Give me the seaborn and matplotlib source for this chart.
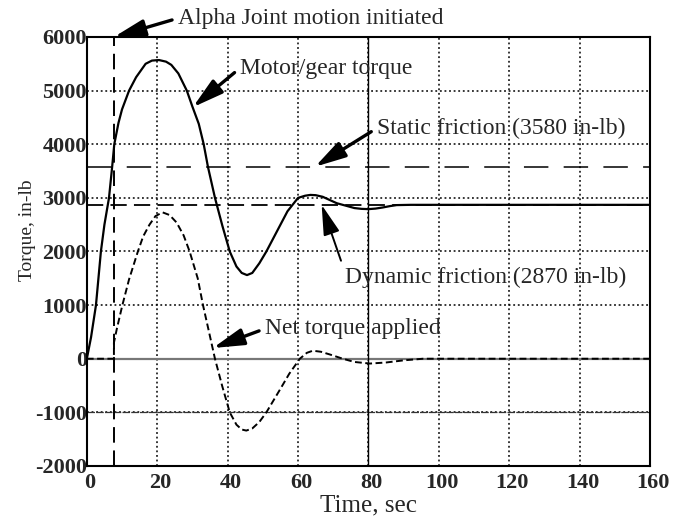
import numpy as np
import pandas as pd
import matplotlib
matplotlib.use("Agg")
import matplotlib.pyplot as plt
import matplotlib.transforms as mtransforms
import seaborn as sns

# Motor/gear torque history (sec, in-lb)
motor_t = [0, 1.2, 2.6, 4.0, 5.0, 6.3, 7.2, 7.8, 9, 10, 12, 14, 16.7, 18.5, 20.5,
           22.5, 24, 26, 28.4, 30, 31.8, 33.2, 34.4, 36.4, 38.5, 40.6, 42.5, 44,
           45.5, 47, 49, 51, 53, 55, 57, 60, 62, 63.5, 65, 67, 69, 71, 73.8, 76,
           78, 80, 82, 84, 86, 88, 92, 100, 160]
motor_tq = [0, 400, 1000, 2000, 2500, 3000, 3580, 4000, 4400, 4650, 5000, 5250,
            5500, 5560, 5570, 5540, 5480, 5320, 5000, 4700, 4380, 4000, 3580, 3000,
            2480, 2000, 1720, 1600, 1560, 1600, 1780, 2000, 2250, 2500, 2750, 3000,
            3040, 3055, 3050, 3020, 2960, 2900, 2850, 2810, 2795, 2790, 2800, 2820,
            2845, 2865, 2870, 2870, 2870]

# Net torque applied (sec, in-lb)
net_t = [0, 7.7, 7.7, 8.5, 10.1, 12, 14.5, 16, 17.8, 19.5, 21.5, 23.5, 25.5, 27.5,
         29.2, 31.5, 33, 34.5, 36.4, 38.5, 40.6, 42.5, 44, 45.3, 47, 49, 51, 53,
         55, 57.5, 60.5, 62.5, 64.2, 66.5, 69, 72.7, 76, 80.4, 85, 90, 95.5, 100, 160]
net_tq = [0, 0, 300, 550, 1000, 1480, 2000, 2280, 2500, 2660, 2730, 2680, 2540,
          2300, 2000, 1500, 1000, 560, 0, -520, -1000, -1230, -1320, -1340, -1300,
          -1180, -1000, -780, -560, -280, 0, 110, 150, 130, 80, 0, -60, -90, -70,
          -30, 0, 0, 0]

static_friction = 3580
dynamic_friction = 2870
motion_start = 7.7

x_ticks = [0, 20, 40, 60, 80, 100, 120, 140, 160]
y_ticks = [-2000, -1000, 0, 1000, 2000, 3000, 4000, 5000, 6000]

motor_df = pd.DataFrame({"Time": motor_t, "Torque": motor_tq})
net_df = pd.DataFrame({"Time": net_t, "Torque": net_tq})

sns.set_style("white")
plt.rcParams["font.family"] = ["Liberation Serif", "DejaVu Serif"]
plt.rcParams["axes.unicode_minus"] = False

fig = plt.figure(figsize=(6.73, 5.21), dpi=100)
ax = fig.add_axes([0.129, 0.1056, 0.837, 0.8234])

ax.set_xlim(0, 160)
ax.set_ylim(-2000, 6000)
ax.set_xticks(x_ticks)
ax.set_yticks(y_ticks)
ax.set_xticks(np.arange(0, 161, 5), minor=True)
ax.set_yticks(np.arange(-2000, 6001, 200), minor=True)
ax.grid(True, which="major", linestyle=(0, (1.2, 1.8)), color="black", lw=1.1)

# reference lines
ax.axhline(0, color="#777777", lw=1.6, zorder=2)
ax.axhline(-1000, color="#333333", lw=0.9, linestyle=(0, (6, 1)), zorder=2)
ax.axvline(80, color="black", lw=1.0, zorder=2)
ax.axhline(static_friction, color="black", lw=1.1, linestyle=(0, (16, 10)), zorder=2)
ax.axhline(dynamic_friction, color="black", lw=1.3, linestyle=(0, (9, 4)), zorder=2)
ax.axvline(motion_start, color="black", lw=1.4, linestyle=(0, (8, 4)), zorder=2)

sns.lineplot(data=motor_df, x="Time", y="Torque", ax=ax, color="black", lw=1.6,
             estimator=None, sort=False, zorder=3)
sns.lineplot(data=net_df, x="Time", y="Torque", ax=ax, color="black", lw=1.4,
             estimator=None, sort=False, linestyle=(0, (3.5, 1.8)), zorder=3)

for s in ax.spines.values():
    s.set_color("black")
    s.set_linewidth(1.5)

ax.tick_params(axis="both", which="both", direction="in", color="black",
               top=False, right=False, labelsize=16)
ax.tick_params(axis="x", pad=5)
ax.tick_params(axis="y", pad=0)
ax.tick_params(which="major", length=6, width=1.2)
ax.tick_params(which="minor", length=4, width=1.0)
for lab in ax.get_xticklabels() + ax.get_yticklabels():
    lab.set_fontweight("bold")
shift = mtransforms.ScaledTranslation(3 / 100, 0, fig.dpi_scale_trans)
for lab in ax.get_xticklabels():
    lab.set_transform(lab.get_transform() + shift)

ax.set_xlabel("Time, sec", fontsize=18)
ax.set_ylabel("Torque, in-lb", fontsize=14)
ax.yaxis.set_label_coords(-0.09, 0.55)
ax.xaxis.set_label_coords(0.5, -0.066)

arrow = dict(arrowstyle="-|>,head_length=1.1,head_width=0.3", color="black",
             lw=2.4, shrinkA=2, shrinkB=0, relpos=(0, 0.5))
txt = dict(fontsize=17, ha="left", va="center", annotation_clip=False)

ax.annotate("Alpha Joint motion initiated", xy=(motion_start, 6000),
            xytext=(25.9, 6350), arrowprops=arrow, **txt)
ax.annotate("Motor/gear torque", xy=(30.1, 4690),
            xytext=(43.5, 5420), arrowprops=arrow, **txt)
ax.annotate("Static friction (3580 in-lb)", xy=(64.8, static_friction),
            xytext=(82.4, 4300), arrowprops=arrow, **txt)
ax.annotate("Dynamic friction (2870 in-lb)", xy=(66.7, dynamic_friction),
            xytext=(73.3, 1520), arrowprops=dict(arrow, lw=1.4, relpos=(0, 0.75)),
            **txt)
ax.annotate("Net torque applied", xy=(35.8, 200),
            xytext=(50.6, 560), arrowprops=arrow, **txt)

fig.savefig("out.png", dpi=100)
